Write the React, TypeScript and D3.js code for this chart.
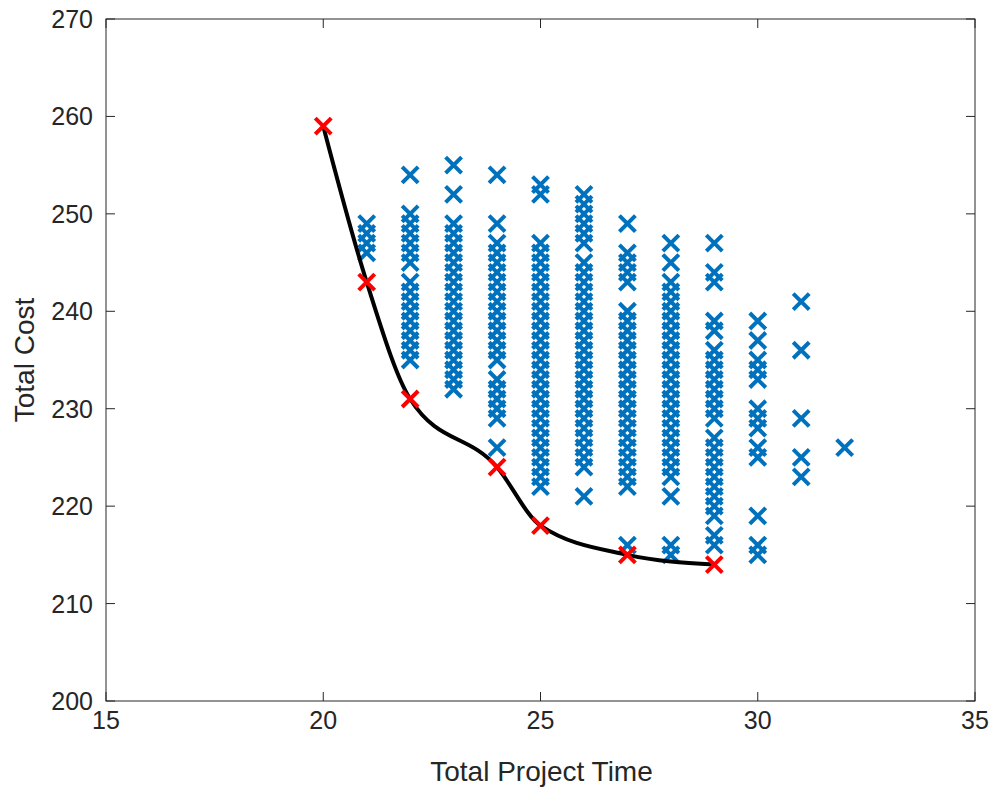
import React from "react";
import * as d3 from "d3";

const times = [21, 22, 23, 24, 25, 26, 27, 28, 29, 30, 31, 32];
const costs21 = [249, 248, 247, 246];
const costs22 = [254, 250, 249, 248, 247, 246, 245, 243, 242, 241, 240, 239, 238, 237, 236, 235];
const costs23 = [255, 252, 249, 248, 247, 246, 245, 244, 243, 242, 241, 240, 239, 238, 237, 236, 235, 234, 233, 232];
const costs24 = [254, 249, 247, 246, 245, 244, 243, 242, 241, 240, 239, 238, 237, 236, 235, 233, 232, 231, 230, 229, 226];
const costs25 = [253, 252, 247, 246, 245, 244, 243, 242, 241, 240, 239, 238, 237, 236, 235, 234, 233, 232, 231, 230, 229, 228, 227, 226, 225, 224, 223, 222];
const costs26 = [252, 251, 250, 249, 248, 247, 245, 244, 243, 242, 241, 240, 239, 238, 237, 236, 235, 234, 233, 232, 231, 230, 229, 228, 227, 226, 225, 224, 221];
const costs27 = [249, 246, 245, 244, 243, 240, 239, 238, 237, 236, 235, 234, 233, 232, 231, 230, 229, 228, 227, 226, 225, 224, 223, 222, 216];
const costs28 = [247, 245, 243, 242, 241, 240, 239, 238, 237, 236, 235, 234, 233, 232, 231, 230, 229, 228, 227, 226, 225, 224, 223, 221, 216, 215];
const costs29 = [247, 244, 243, 239, 238, 236, 235, 234, 233, 232, 231, 230, 229, 227, 226, 225, 224, 223, 222, 221, 220, 219, 217, 216];
const costs30 = [239, 237, 235, 234, 233, 230, 229, 228, 226, 225, 219, 216, 215];
const costs31 = [241, 236, 229, 225, 223];
const costs32 = [226];
const costColumns = [costs21, costs22, costs23, costs24, costs25, costs26, costs27, costs28, costs29, costs30, costs31, costs32];

const paretoTime = [20, 21, 22, 24, 25, 27, 29];
const paretoCost = [259, 243, 231, 224, 218, 215, 214];

const xTicks = [15, 20, 25, 30, 35];
const yTicks = [200, 210, 220, 230, 240, 250, 260, 270];

const W = 992, H = 789;
const L = 106, R = 975, T = 19, B = 701;
const axisColor = "#262626";
const font = "'Liberation Sans', Arial, Helvetica, sans-serif";

function Cross({ cx, cy, color }: { cx: number; cy: number; color: string }) {
  const s = 8;
  return (
    <path
      d={`M${cx - s},${cy - s}L${cx + s},${cy + s}M${cx - s},${cy + s}L${cx + s},${cy - s}`}
      stroke={color}
      strokeWidth={4}
      fill="none"
    />
  );
}

export default function App() {
  const x = d3.scaleLinear().domain([15, 35]).range([L, R]);
  const y = d3.scaleLinear().domain([200, 270]).range([B, T]);

  const scatter: { t: number; c: number }[] = [];
  times.forEach((t, i) => costColumns[i].forEach((c) => scatter.push({ t, c })));

  const pareto = paretoTime.map((t, i) => ({ t, c: paretoCost[i] }));
  const line = d3
    .line<{ t: number; c: number }>()
    .x((d) => x(d.t))
    .y((d) => y(d.c))
    .curve(d3.curveMonotoneX);

  const tick = 9;

  return (
    <svg width={W} height={H} style={{ position: "absolute", left: 0, top: 0, background: "#fff" }}>
      <rect x={0} y={0} width={W} height={H} fill="#fff" />
      {scatter.map((d, i) => (
        <Cross key={"s" + i} cx={x(d.t)} cy={y(d.c)} color="#0072BD" />
      ))}
      <path d={line(pareto) || ""} stroke="#000" strokeWidth={4} fill="none" />
      {pareto.map((d, i) => (
        <Cross key={"p" + i} cx={x(d.t)} cy={y(d.c)} color="#FF0000" />
      ))}
      <rect x={L} y={T} width={R - L} height={B - T} fill="none" stroke={axisColor} strokeWidth={1} />
      {xTicks.map((v) => (
        <g key={"xt" + v}>
          <line x1={x(v)} x2={x(v)} y1={B} y2={B - tick} stroke={axisColor} />
          <line x1={x(v)} x2={x(v)} y1={T} y2={T + tick} stroke={axisColor} />
          <text x={x(v)} y={B + 28} textAnchor="middle" fontFamily={font} fontSize={25} fill={axisColor}>
            {v}
          </text>
        </g>
      ))}
      {yTicks.map((v) => (
        <g key={"yt" + v}>
          <line x1={L} x2={L + tick} y1={y(v)} y2={y(v)} stroke={axisColor} />
          <line x1={R} x2={R - tick} y1={y(v)} y2={y(v)} stroke={axisColor} />
          <text x={L - 13} y={y(v) + 9} textAnchor="end" fontFamily={font} fontSize={25} fill={axisColor}>
            {v}
          </text>
        </g>
      ))}
      <text x={(L + R) / 2 + 1} y={781} textAnchor="middle" fontFamily={font} fontSize={28} fill={axisColor}>
        Total Project Time
      </text>
      <text
        transform={`translate(34,${(T + B) / 2}) rotate(-90)`}
        textAnchor="middle"
        fontFamily={font}
        fontSize={28}
        fill={axisColor}
      >
        Total Cost
      </text>
    </svg>
  );
}
